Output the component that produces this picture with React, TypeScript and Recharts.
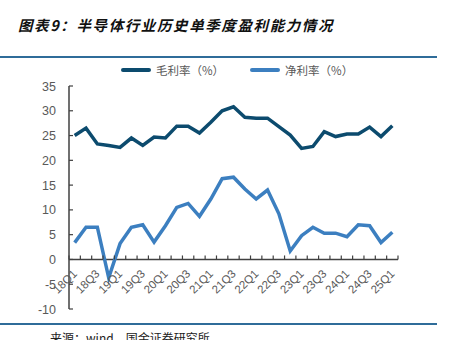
import { LineChart, Line, XAxis, YAxis, ReferenceLine } from "recharts";

// 季度
const quarters = [
  "18Q1", "18Q2", "18Q3", "18Q4", "19Q1", "19Q2", "19Q3", "19Q4",
  "20Q1", "20Q2", "20Q3", "20Q4", "21Q1", "21Q2", "21Q3", "21Q4",
  "22Q1", "22Q2", "22Q3", "22Q4", "23Q1", "23Q2", "23Q3", "23Q4",
  "24Q1", "24Q2", "24Q3", "24Q4", "25Q1",
];
// 毛利率 (%)
const grossMargin = [
  25.0, 26.5, 23.3, 23.0, 22.6, 24.5, 23.0, 24.7, 24.5, 26.9, 26.9, 25.5,
  27.7, 30.0, 30.8, 28.7, 28.5, 28.5, 26.8, 25.1, 22.4, 22.8, 25.8, 24.8,
  25.3, 25.3, 26.7, 24.8, 27.0,
];
// 净利率 (%)
const netMargin = [
  3.4, 6.5, 6.5, -3.7, 3.2, 6.5, 7.0, 3.5, 6.8, 10.5, 11.3, 8.7, 12.2, 16.3,
  16.6, 14.2, 12.2, 14.0, 9.2, 1.7, 4.8, 6.5, 5.3, 5.3, 4.6, 7.0, 6.8, 3.4, 5.5,
];
const yTicks = [-10, -5, 0, 5, 10, 15, 20, 25, 30, 35];

const series = [
  { key: "gross", name: "毛利率（%）", color: "#0c4b6e", values: grossMargin },
  { key: "net", name: "净利率（%）", color: "#3c7fc0", values: netMargin },
];

const data = quarters.map((q, i) => ({
  q,
  gross: grossMargin[i],
  net: netMargin[i],
}));

const W = 451;
const H = 340;
const PLOT_LEFT = 69;
const PLOT_RIGHT = 398;
const PLOT_TOP = 86;
const PLOT_BOTTOM = 309;
const Y_AXIS_W = 50;
const X_AXIS_H = 20;
const Y_MIN = -10;
const Y_MAX = 35;
const BAND = (PLOT_RIGHT - PLOT_LEFT) / quarters.length;
// x 轴画在 0 的位置
const ZERO_SHIFT = ((PLOT_BOTTOM - PLOT_TOP) * (0 - Y_MIN)) / (Y_MAX - Y_MIN);
const AXIS_COLOR = "#404040";
const TEXT_COLOR = "#595959";
const FONT = "'Liberation Sans', Arial, 'Noto Sans CJK SC', sans-serif";

const XTick = (props: any) => {
  const { x, y, payload, index } = props;
  const y0 = y - ZERO_SHIFT;
  const last = index === quarters.length - 1;
  return (
    <g>
      <line x1={x - BAND / 2} x2={x - BAND / 2} y1={y0} y2={y0 - 4} stroke={AXIS_COLOR} strokeWidth={1.2} />
      {last && (
        <line x1={x + BAND / 2} x2={x + BAND / 2} y1={y0} y2={y0 - 4} stroke={AXIS_COLOR} strokeWidth={1.2} />
      )}
      {index % 2 === 0 && (
        <text
          x={x + 3}
          y={y0 + 15}
          textAnchor="end"
          transform={`rotate(-45, ${x + 3}, ${y0 + 15})`}
          fontSize={11.5}
          fill={TEXT_COLOR}
          fontFamily={FONT}
        >
          {payload.value}
        </text>
      )}
    </g>
  );
};

const YTick = (props: any) => {
  const { x, y, payload } = props;
  return (
    <g>
      <line x1={x} x2={x + 4} y1={y} y2={y} stroke={AXIS_COLOR} strokeWidth={1.2} />
      <text x={x - 13} y={y + 4.5} textAnchor="end" fontSize={12.5} fill={TEXT_COLOR} fontFamily={FONT}>
        {payload.value}
      </text>
    </g>
  );
};

const App = () => {
  return (
    <div
      style={{
        position: "absolute",
        left: 0,
        top: 0,
        width: W,
        height: H,
        overflow: "hidden",
        background: "#fff",
        fontFamily: FONT,
      }}
    >
      <div
        style={{
          position: "absolute",
          left: 18,
          top: 14,
          fontSize: 14.5,
          fontWeight: "bold",
          fontStyle: "italic",
          letterSpacing: 1.6,
          color: "#111",
          fontFamily: "'Noto Sans CJK SC', sans-serif",
          whiteSpace: "nowrap",
        }}
      >
        图表9：半导体行业历史单季度盈利能力情况
      </div>
      <div style={{ position: "absolute", left: 0, top: 56, width: 437, height: 2, background: "#2f6c99" }} />

      {/* 图例 */}
      <div style={{ position: "absolute", left: 121, top: 62, display: "flex", alignItems: "center" }}>
        {series.map((s, i) => (
          <div key={s.key} style={{ display: "flex", alignItems: "center", marginRight: i === 0 ? 26 : 0 }}>
            <div style={{ width: 30, height: 4, background: s.color, borderRadius: 2, marginRight: 5 }} />
            <span style={{ fontSize: 11.5, color: TEXT_COLOR, fontFamily: "'Noto Sans CJK SC', sans-serif", whiteSpace: "nowrap" }}>
              {s.name}
            </span>
          </div>
        ))}
      </div>

      <div style={{ position: "absolute", left: 0, top: 0 }}>
        <LineChart
          width={W}
          height={H}
          data={data}
          margin={{
            top: PLOT_TOP,
            left: PLOT_LEFT - Y_AXIS_W,
            right: W - PLOT_RIGHT,
            bottom: H - PLOT_BOTTOM - X_AXIS_H,
          }}
        >
          <XAxis
            dataKey="q"
            interval={0}
            height={X_AXIS_H}
            axisLine={false}
            tickLine={false}
            tickSize={0}
            tickMargin={0}
            padding={{ left: BAND / 2, right: BAND / 2 }}
            tick={<XTick />}
          />
          <YAxis
            width={Y_AXIS_W}
            domain={[Y_MIN, Y_MAX]}
            ticks={yTicks}
            interval={0}
            tickLine={false}
            tickSize={0}
            tickMargin={0}
            axisLine={{ stroke: AXIS_COLOR, strokeWidth: 1.5 }}
            tick={<YTick />}
          />
          <ReferenceLine y={0} stroke={AXIS_COLOR} strokeWidth={1.5} />
          {series.map((s) => (
            <Line
              key={s.key}
              dataKey={s.key}
              name={s.name}
              stroke={s.color}
              strokeWidth={3.5}
              dot={false}
              activeDot={false}
              strokeLinejoin="miter"
              isAnimationActive={false}
            />
          ))}
        </LineChart>
      </div>

      <div style={{ position: "absolute", left: 0, top: 323, width: 437, height: 2, background: "#2f6c99" }} />
      <div
        style={{
          position: "absolute",
          left: 50,
          top: 331,
          fontSize: 12,
          lineHeight: "14px",
          color: "#222",
          fontFamily: "'Noto Sans CJK SC', sans-serif",
          whiteSpace: "nowrap",
        }}
      >
        来源：wind，国金证券研究所
      </div>
    </div>
  );
};

export default App;
